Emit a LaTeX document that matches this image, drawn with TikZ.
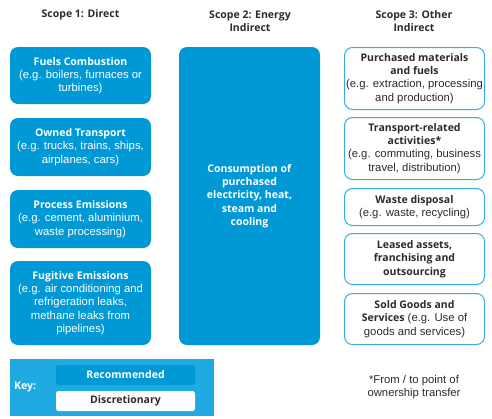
\documentclass[tikz,border=0pt]{standalone}
\usepackage{fontspec}
\setmainfont{Liberation Sans}[BoldFont={Open Sans Bold},BoldFeatures={Scale=0.93}]
\definecolor{sblue}{HTML}{0099D6}
\definecolor{keyblue}{HTML}{1FAAE1}
\definecolor{lineblue}{HTML}{3AAEE0}
\definecolor{txt}{HTML}{2B2B2B}
\newcommand{\bodyfont}{\fontsize{11.3}{13.3}\selectfont}
\tikzset{
  rec/.style={fill=sblue, draw=none, rounded corners=8pt, text=white, align=center, inner sep=0pt, font=\bodyfont},
  disc/.style={fill=white, draw=lineblue, line width=1pt, rounded corners=8pt, text=txt, align=center, inner sep=0pt, font=\bodyfont},
  head/.style={text=txt, align=center, inner sep=0pt, font=\fontsize{11.3}{13}\selectfont\bfseries},
  plain/.style={text=txt, align=center, inner sep=0pt, font=\fontsize{11.3}{13}\selectfont},
}
\begin{document}
\begin{tikzpicture}[x=1pt,y=-1pt]
\useasboundingbox (0,0) rectangle (492,418);
% headings
\node[head] (h1) at (80.5,15) {Scope 1: Direct};
\node[head] (h2) at (250,21) {Scope 2: Energy\\Indirect};
\node[head] (h3) at (414,21) {Scope 3: Other\\Indirect};
% scope 1
\node[rec, minimum width=141pt, minimum height=57pt] (a1) at (80.5,75.5) {\textbf{Fuels Combustion}\\(e.g. boilers, furnaces or\\turbines)};
\node[rec, minimum width=141pt, minimum height=58pt] (a2) at (80.5,147) {\textbf{Owned Transport}\\(e.g. trucks, trains, ships,\\airplanes, cars)};
\node[rec, minimum width=141pt, minimum height=58pt] (a3) at (80.5,219) {\textbf{Process Emissions}\\(e.g. cement, aluminium,\\waste processing)};
\node[rec, minimum width=141pt, minimum height=84pt] (a4) at (80.5,303) {\textbf{Fugitive Emissions}\\(e.g. air conditioning and\\refrigeration leaks,\\methane leaks from\\pipelines)};
% scope 2
\node[rec, minimum width=141pt, minimum height=298pt] (b1) at (249.5,196) {\textbf{Consumption of}\\\textbf{purchased}\\\textbf{electricity, heat,}\\\textbf{steam and}\\\textbf{cooling}};
% scope 3
\node[disc, minimum width=140pt, minimum height=62pt] (c1) at (414.5,78.5) {\textbf{Purchased materials}\\\textbf{and fuels}\\(e.g. extraction, processing\\and production)};
\node[disc, minimum width=140pt, minimum height=62pt] (c2) at (414.5,148.5) {\textbf{Transport-related}\\\textbf{activities*}\\(e.g. commuting, business\\travel, distribution)};
\node[disc, minimum width=140pt, minimum height=37pt] (c3) at (414.5,207) {\textbf{Waste disposal}\\(e.g. waste, recycling)};
\node[disc, minimum width=140pt, minimum height=51pt] (c4) at (414.5,259) {\textbf{Leased assets,}\\\textbf{franchising and}\\\textbf{outsourcing}};
\node[disc, minimum width=140pt, minimum height=51pt] (c5) at (414.5,319) {\textbf{Sold Goods and}\\\textbf{Services} (e.g. Use of\\goods and services)};
% key
\node[fill=keyblue, draw=none, minimum width=204pt, minimum height=57pt, inner sep=0pt] (key) at (112,387.5) {};
\node[text=white, inner sep=0pt, anchor=west, font=\fontsize{11.3}{12}\selectfont\bfseries] (keylbl) at (14,387) {Key:};
\node[fill=sblue, rounded corners=2.5pt, minimum width=139pt, minimum height=20pt, inner sep=0pt, text=white, font=\fontsize{11.3}{12}\selectfont\bfseries] (krec) at (125.5,375) {Recommended};
\node[fill=white, rounded corners=2.5pt, minimum width=139pt, minimum height=20pt, inner sep=0pt, text=txt, font=\fontsize{11.3}{12}\selectfont\bfseries] (kdisc) at (125.5,401) {Discretionary};
% footnote
\node[plain] (note) at (414,387.5) {*From / to point of\\ownership transfer};
\end{tikzpicture}
\end{document}
